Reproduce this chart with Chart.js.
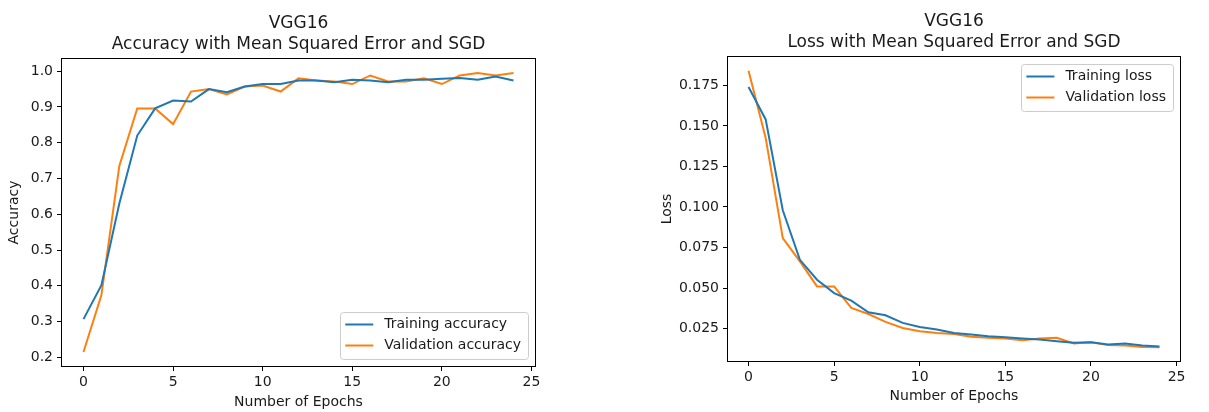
<!DOCTYPE html>
<html>
<head>
<meta charset="utf-8">
<script src="https://cdn.jsdelivr.net/npm/chart.js@4.4.1/dist/chart.umd.min.js"></script>
<style>
  html, body { margin: 0; padding: 0; background: #fff; }
  #wrap { position: relative; width: 1209px; height: 412px; }
  canvas { position: absolute; top: 0; }
  #accCanvas { left: 0; }
  #lossCanvas { left: 600px; }
</style>
</head>
<body>
<div id="wrap">
  <canvas id="accCanvas" width="600" height="412"></canvas>
  <canvas id="lossCanvas" width="609" height="412"></canvas>
</div>
<script>
// values
const epochs = [0, 1, 2, 3, 4, 5, 6, 7, 8, 9, 10, 11, 12, 13, 14, 15, 16, 17, 18, 19, 20, 21, 22, 23, 24];

const trainAcc = [0.307, 0.402, 0.630, 0.820, 0.896, 0.918, 0.915, 0.950, 0.941, 0.957, 0.964, 0.964, 0.974,
                  0.974, 0.969, 0.976, 0.974, 0.969, 0.976, 0.976, 0.979, 0.981, 0.976, 0.985, 0.974];
const valAcc = [0.215, 0.374, 0.735, 0.896, 0.896, 0.852, 0.943, 0.950, 0.935, 0.957, 0.960, 0.943, 0.980,
                0.974, 0.971, 0.964, 0.988, 0.971, 0.971, 0.980, 0.964, 0.988, 0.995, 0.988, 0.995];

const trainLoss = [0.174, 0.154, 0.098, 0.0674, 0.0551, 0.0469, 0.0422, 0.0350, 0.0332, 0.0285, 0.0260, 0.0244, 0.0223,
                   0.0213, 0.0203, 0.0197, 0.0189, 0.0182, 0.0172, 0.0162, 0.0166, 0.0152, 0.0158, 0.0146, 0.0139];
const valLoss = [0.184, 0.1426, 0.0808, 0.0664, 0.0510, 0.0510, 0.0377, 0.0340, 0.0291, 0.0254, 0.0234, 0.0223, 0.0217,
                 0.0199, 0.0193, 0.0189, 0.0178, 0.0189, 0.0193, 0.0158, 0.0166, 0.0148, 0.0146, 0.0137, 0.0135];

const epochTicks = [0, 5, 10, 15, 20, 25];
const accTicks = [0.2, 0.3, 0.4, 0.5, 0.6, 0.7, 0.8, 0.9, 1.0];
const accTickLabels = ['0.2', '0.3', '0.4', '0.5', '0.6', '0.7', '0.8', '0.9', '1.0'];
const lossTicks = [0.025, 0.05, 0.075, 0.1, 0.125, 0.15, 0.175];
const lossTickLabels = ['0.025', '0.050', '0.075', '0.100', '0.125', '0.150', '0.175'];

const BLUE = '#1f77b4';
const ORANGE = '#ff7f0e';
const TEXT = '#1a1a1a';
const FONT = 'DejaVu Sans';
const LABEL_SIZE = 14;

// matplotlib style frame around the plot area
const frame = {
    id: 'frame',
    afterDraw(chart) {
        const a = chart.chartArea;
        const ctx = chart.ctx;
        ctx.save();
        ctx.strokeStyle = '#000';
        ctx.lineWidth = 1;
        ctx.strokeRect(Math.round(a.left) - 0.5, Math.round(a.top) - 0.5,
            Math.round(a.right - a.left) + 1, Math.round(a.bottom - a.top) + 1);
        ctx.restore();
    }
};

// legend box inside the plot area, like plt.legend()
const boxLegend = {
    id: 'boxLegend',
    afterDraw(chart, args, opts) {
        const a = chart.chartArea;
        const ctx = chart.ctx;
        const items = chart.data.datasets;
        ctx.save();
        ctx.font = LABEL_SIZE + 'px "' + FONT + '"';
        let textW = 0;
        items.forEach(d => { textW = Math.max(textW, ctx.measureText(d.label).width); });
        const w = 5 + 28 + 11 + textW + 7;
        const h = 47;
        const x = a.right - 7 - w;
        const y = opts.corner === 'lower' ? a.bottom - 7 - h : a.top + 7;
        ctx.beginPath();
        ctx.roundRect(Math.round(x) + 0.5, Math.round(y) + 0.5, Math.round(w), h, 3);
        ctx.fillStyle = 'rgba(255,255,255,0.8)';
        ctx.fill();
        ctx.strokeStyle = '#cccccc';
        ctx.lineWidth = 1;
        ctx.stroke();
        items.forEach((d, i) => {
            const cy = y + 12.5 + i * 21;
            ctx.beginPath();
            ctx.moveTo(x + 5, cy);
            ctx.lineTo(x + 33, cy);
            ctx.strokeStyle = d.borderColor;
            ctx.lineWidth = 2;
            ctx.stroke();
            ctx.fillStyle = TEXT;
            ctx.textBaseline = 'middle';
            ctx.fillText(d.label, x + 44, cy);
        });
        ctx.restore();
    }
};

function series(label, ys, color) {
    return {
        label: label,
        data: epochs.map((e, i) => ({ x: e, y: ys[i] })),
        borderColor: color,
        backgroundColor: color,
        borderWidth: 2,
        pointRadius: 0,
        tension: 0,
        fill: false
    };
}

function makeChart(id, cfg) {
    const font = { family: FONT, size: LABEL_SIZE, lineHeight: 1.2 };
    return new Chart(document.getElementById(id), {
        type: 'line',
        data: { datasets: cfg.datasets },
        plugins: [frame, boxLegend],
        options: {
            responsive: false,
            animation: false,
            devicePixelRatio: 1,
            layout: { padding: cfg.padding },
            plugins: {
                legend: { display: false },
                tooltip: { enabled: false },
                title: {
                    display: true,
                    fullSize: false,
                    text: cfg.title,
                    color: TEXT,
                    font: { family: FONT, size: 17, weight: 'normal', lineHeight: '21px' },
                    padding: cfg.titlePad
                },
                boxLegend: { corner: cfg.corner }
            },
            scales: {
                x: {
                    type: 'linear',
                    min: -1.2,
                    max: 25.2,
                    afterBuildTicks: s => { s.ticks = epochTicks.map(v => ({ value: v })); },
                    afterFit: s => { s.height = cfg.xHeight; },
                    grid: { drawOnChartArea: false, tickLength: 5, tickColor: '#000', tickWidth: 1 },
                    border: { display: false },
                    ticks: { color: TEXT, font: font, padding: 3, maxRotation: 0, callback: v => String(v) },
                    title: { display: true, text: 'Number of Epochs', color: TEXT, font: font, padding: { top: cfg.xTitlePad, bottom: cfg.xTitlePad } }
                },
                y: {
                    type: 'linear',
                    min: cfg.yMin,
                    max: cfg.yMax,
                    afterBuildTicks: s => { s.ticks = cfg.yTicks.map(v => ({ value: v })); },
                    afterFit: s => { s.width = cfg.yWidth; },
                    grid: { drawOnChartArea: false, tickLength: 5, tickColor: '#000', tickWidth: 1 },
                    border: { display: false },
                    ticks: { color: TEXT, font: font, padding: 4, callback: (v, i) => cfg.yLabels[i] },
                    title: { display: true, text: cfg.yTitle, color: TEXT, font: font, padding: { top: cfg.yTitlePad, bottom: 0 } }
                }
            }
        }
    });
}

makeChart('accCanvas', {
    title: ['VGG16', 'Accuracy with Mean Squared Error and SGD'],
    titlePad: { top: 13, bottom: 4 },
    datasets: [series('Training accuracy', trainAcc, BLUE), series('Validation accuracy', valAcc, ORANGE)],
    padding: { left: 0, right: 65, top: 0, bottom: 0 },
    yWidth: 62,
    xHeight: 46,
    xTitlePad: 1.6,
    yTitlePad: 5.6,
    yMin: 0.176,
    yMax: 1.034,
    yTicks: accTicks,
    yLabels: accTickLabels,
    yTitle: 'Accuracy',
    corner: 'lower'
});

makeChart('lossCanvas', {
    title: ['VGG16', 'Loss with Mean Squared Error and SGD'],
    titlePad: { top: 11, bottom: 4 },
    datasets: [series('Training loss', trainLoss, BLUE), series('Validation loss', valLoss, ORANGE)],
    padding: { left: 59, right: 29, top: 0, bottom: 7 },
    yWidth: 69,
    xHeight: 44,
    xTitlePad: 0.6,
    yTitlePad: 0,
    yMin: 0.005,
    yMax: 0.1925,
    yTicks: lossTicks,
    yLabels: lossTickLabels,
    yTitle: 'Loss',
    corner: 'upper'
});
</script>
</body>
</html>
